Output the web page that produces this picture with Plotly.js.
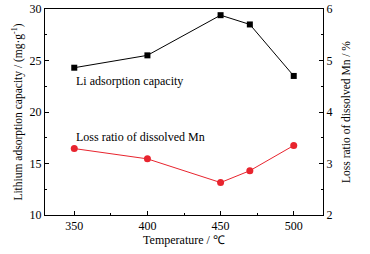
<!DOCTYPE html>
<html><head><meta charset="utf-8">
<script src="https://cdn.plot.ly/plotly-3.0.1.min.js"></script>
<style>body{margin:0;background:#fff}#c{width:370px;height:254px}</style>
</head><body><div id="c"></div>
<script>
const temps = [350, 400, 450, 470, 500];
const liCapacity = [24.3, 25.5, 29.4, 28.5, 23.5];
const mnLoss = [3.29, 3.09, 2.63, 2.86, 3.35];
const xTicks = [350, 400, 450, 500];

const font = {family: 'Liberation Serif, Times New Roman, serif', color: '#000', size: 12};
const traces = [
  {x: temps, y: liCapacity, type: 'scatter', mode: 'lines+markers', yaxis: 'y',
   line: {color: '#000', width: 1}, marker: {symbol: 'square', size: 6, color: '#000'}},
  {x: temps, y: mnLoss, type: 'scatter', mode: 'lines+markers', yaxis: 'y2',
   line: {color: '#e8242e', width: 1}, marker: {symbol: 'circle', size: 7, color: '#e8242e'}}
];
const layout = {
  width: 370, height: 254, showlegend: false,
  margin: {l: 45, r: 47, t: 9, b: 39},
  paper_bgcolor: '#fff', plot_bgcolor: '#fff', font: font,
  xaxis: {range: [330, 520], tickvals: xTicks, ticks: 'inside', ticklen: 4, tickcolor: '#000',
    minor: {dtick: 25, tick0: 325, ticks: 'inside', ticklen: 2, tickcolor: '#000'},
    showline: true, linecolor: '#000', linewidth: 1, mirror: true, showgrid: false, zeroline: false,
    title: {text: 'Temperature / ℃', font: {size: 12}, standoff: 0}},
  yaxis: {range: [10, 30], dtick: 5, ticks: 'inside', ticklen: 4, tickcolor: '#000',
    minor: {dtick: 2.5, ticks: 'inside', ticklen: 2, tickcolor: '#000'},
    showline: true, linecolor: '#000', linewidth: 1, showgrid: false, zeroline: false,
    title: {text: 'Lithium adsorption capacity / (mg·g<sup>-1</sup>)', font: {size: 11.5}, standoff: 4}},
  yaxis2: {range: [2, 6], dtick: 1, overlaying: 'y', side: 'right', ticks: 'inside', ticklen: 4, tickcolor: '#000',
    minor: {dtick: 0.5, ticks: 'inside', ticklen: 2, tickcolor: '#000'},
    showline: true, linecolor: '#000', linewidth: 1, showgrid: false, zeroline: false,
    title: {text: 'Loss ratio of dissolved Mn / %', font: {size: 11.5}, standoff: 10}},
  annotations: [
    {x: 350, y: 23.0, xref: 'x', yref: 'y', text: 'Li adsorption capacity', showarrow: false, xanchor: 'left', yanchor: 'middle', font: {size: 12}},
    {x: 350, y: 17.6, xref: 'x', yref: 'y', text: 'Loss ratio of dissolved Mn', showarrow: false, xanchor: 'left', yanchor: 'middle', font: {size: 12}}
  ]
};
Plotly.newPlot('c', traces, layout, {staticPlot: true});
</script></body></html>
